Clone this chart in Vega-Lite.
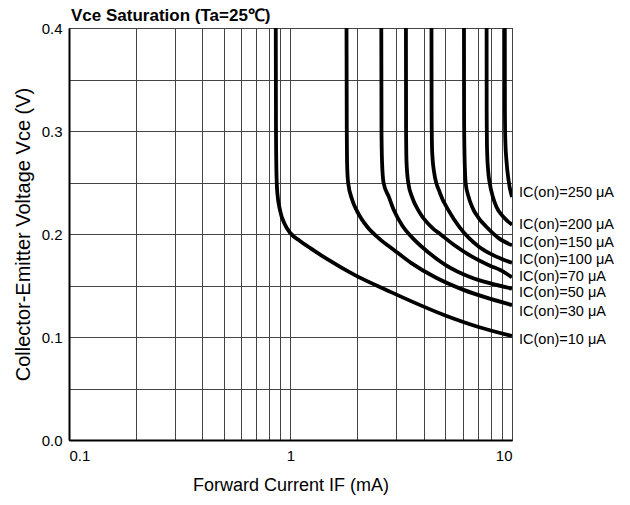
{
  "$schema": "https://vega.github.io/schema/vega-lite/v6.json",
  "width": 443,
  "height": 412,
  "autosize": "none",
  "padding": {"left": 69, "top": 28, "right": 118, "bottom": 65},
  "background": "white",
  "config": {
    "font": "Liberation Sans",
    "view": {"stroke": "#000", "strokeWidth": 1},
    "axis": {"labelFont": "Liberation Sans", "titleFont": "Liberation Sans", "labelColor": "#000", "titleColor": "#000", "titleFontWeight": "normal"}
  },
  "title": {
    "text": "Vce Saturation (Ta=25℃)",
    "anchor": "start",
    "frame": "group",
    "dx": 2,
    "offset": -4,
    "fontSize": 17,
    "fontWeight": "bold",
    "font": "Liberation Sans",
    "color": "#000"
  },
  "datasets": {
    "curves": [
      {"ic": "10", "fwd": 0.858, "vce": 0.40}, {"ic": "10", "fwd": 0.860, "vce": 0.30}, {"ic": "10", "fwd": 0.864, "vce": 0.26}, {"ic": "10", "fwd": 0.872, "vce": 0.24}, {"ic": "10", "fwd": 0.897, "vce": 0.223}, {"ic": "10", "fwd": 0.94, "vce": 0.210}, {"ic": "10", "fwd": 1.0, "vce": 0.2007}, {"ic": "10", "fwd": 1.1, "vce": 0.1935}, {"ic": "10", "fwd": 1.234, "vce": 0.186}, {"ic": "10", "fwd": 1.466, "vce": 0.1755}, {"ic": "10", "fwd": 1.935, "vce": 0.1605}, {"ic": "10", "fwd": 2.78, "vce": 0.1445}, {"ic": "10", "fwd": 4.93, "vce": 0.1214}, {"ic": "10", "fwd": 7.0, "vce": 0.110}, {"ic": "10", "fwd": 10, "vce": 0.101},
      {"ic": "30", "fwd": 1.79, "vce": 0.40}, {"ic": "30", "fwd": 1.795, "vce": 0.30}, {"ic": "30", "fwd": 1.80, "vce": 0.27}, {"ic": "30", "fwd": 1.82, "vce": 0.25}, {"ic": "30", "fwd": 1.90, "vce": 0.233}, {"ic": "30", "fwd": 2.0, "vce": 0.222}, {"ic": "30", "fwd": 2.22, "vce": 0.207}, {"ic": "30", "fwd": 2.5, "vce": 0.196}, {"ic": "30", "fwd": 2.93, "vce": 0.1845}, {"ic": "30", "fwd": 3.5, "vce": 0.172}, {"ic": "30", "fwd": 4.5, "vce": 0.158}, {"ic": "30", "fwd": 6.0, "vce": 0.146}, {"ic": "30", "fwd": 8.0, "vce": 0.137}, {"ic": "30", "fwd": 10, "vce": 0.131},
      {"ic": "50", "fwd": 2.57, "vce": 0.40}, {"ic": "50", "fwd": 2.575, "vce": 0.30}, {"ic": "50", "fwd": 2.59, "vce": 0.27}, {"ic": "50", "fwd": 2.63, "vce": 0.25}, {"ic": "50", "fwd": 2.78, "vce": 0.236}, {"ic": "50", "fwd": 2.93, "vce": 0.223}, {"ic": "50", "fwd": 3.2, "vce": 0.208}, {"ic": "50", "fwd": 3.6, "vce": 0.195}, {"ic": "50", "fwd": 4.2, "vce": 0.182}, {"ic": "50", "fwd": 5.0, "vce": 0.170}, {"ic": "50", "fwd": 6.5, "vce": 0.158}, {"ic": "50", "fwd": 8.0, "vce": 0.152}, {"ic": "50", "fwd": 10, "vce": 0.147},
      {"ic": "70", "fwd": 3.32, "vce": 0.40}, {"ic": "70", "fwd": 3.325, "vce": 0.30}, {"ic": "70", "fwd": 3.34, "vce": 0.27}, {"ic": "70", "fwd": 3.40, "vce": 0.25}, {"ic": "70", "fwd": 3.55, "vce": 0.235}, {"ic": "70", "fwd": 3.8, "vce": 0.222}, {"ic": "70", "fwd": 4.39, "vce": 0.2055}, {"ic": "70", "fwd": 4.735, "vce": 0.200}, {"ic": "70", "fwd": 5.5, "vce": 0.189}, {"ic": "70", "fwd": 6.6, "vce": 0.178}, {"ic": "70", "fwd": 8.0, "vce": 0.169}, {"ic": "70", "fwd": 8.85, "vce": 0.165}, {"ic": "70", "fwd": 10, "vce": 0.158},
      {"ic": "100", "fwd": 4.33, "vce": 0.40}, {"ic": "100", "fwd": 4.335, "vce": 0.32}, {"ic": "100", "fwd": 4.36, "vce": 0.28}, {"ic": "100", "fwd": 4.45, "vce": 0.26}, {"ic": "100", "fwd": 4.735, "vce": 0.2395}, {"ic": "100", "fwd": 5.2, "vce": 0.222}, {"ic": "100", "fwd": 5.78, "vce": 0.207}, {"ic": "100", "fwd": 6.4, "vce": 0.196}, {"ic": "100", "fwd": 7.09, "vce": 0.1877}, {"ic": "100", "fwd": 8.5, "vce": 0.178}, {"ic": "100", "fwd": 10, "vce": 0.172},
      {"ic": "150", "fwd": 6.07, "vce": 0.40}, {"ic": "150", "fwd": 6.075, "vce": 0.32}, {"ic": "150", "fwd": 6.1, "vce": 0.28}, {"ic": "150", "fwd": 6.18, "vce": 0.249}, {"ic": "150", "fwd": 6.35, "vce": 0.237}, {"ic": "150", "fwd": 6.6, "vce": 0.2265}, {"ic": "150", "fwd": 7.1, "vce": 0.215}, {"ic": "150", "fwd": 7.66, "vce": 0.207}, {"ic": "150", "fwd": 8.7, "vce": 0.196}, {"ic": "150", "fwd": 10, "vce": 0.189},
      {"ic": "200", "fwd": 7.68, "vce": 0.40}, {"ic": "200", "fwd": 7.685, "vce": 0.32}, {"ic": "200", "fwd": 7.72, "vce": 0.28}, {"ic": "200", "fwd": 7.80, "vce": 0.262}, {"ic": "200", "fwd": 7.94, "vce": 0.249}, {"ic": "200", "fwd": 8.2, "vce": 0.236}, {"ic": "200", "fwd": 8.5, "vce": 0.2265}, {"ic": "200", "fwd": 9.2, "vce": 0.216}, {"ic": "200", "fwd": 10, "vce": 0.209},
      {"ic": "250", "fwd": 9.28, "vce": 0.40}, {"ic": "250", "fwd": 9.29, "vce": 0.32}, {"ic": "250", "fwd": 9.33, "vce": 0.29}, {"ic": "250", "fwd": 9.45, "vce": 0.27}, {"ic": "250", "fwd": 9.65, "vce": 0.252}, {"ic": "250", "fwd": 10, "vce": 0.236}
    ],
    "labels": [
      {"label": "IC(on)=250 μA", "fwd": 10, "vce": 0.2395},
      {"label": "IC(on)=200 μA", "fwd": 10, "vce": 0.2087},
      {"label": "IC(on)=150 μA", "fwd": 10, "vce": 0.1916},
      {"label": "IC(on)=100 μA", "fwd": 10, "vce": 0.1748},
      {"label": "IC(on)=70 μA", "fwd": 10, "vce": 0.1586},
      {"label": "IC(on)=50 μA", "fwd": 10, "vce": 0.143},
      {"label": "IC(on)=30 μA", "fwd": 10, "vce": 0.1246},
      {"label": "IC(on)=10 μA", "fwd": 10, "vce": 0.097}
    ]
  },
  "layer": [
    {
      "data": {"name": "curves"},
      "mark": {"type": "line", "color": "#000", "strokeWidth": 3.8, "interpolate": "monotone", "clip": true},
      "encoding": {
        "x": {
          "field": "fwd", "type": "quantitative",
          "scale": {"type": "log", "domain": [0.1, 10], "nice": false},
          "axis": {
            "title": "Forward Current IF (mA)",
            "titleFontSize": 18,
            "titlePadding": 13,
            "values": [0.1, 0.2, 0.3, 0.4, 0.5, 0.6, 0.7, 0.8, 0.9, 1, 2, 3, 4, 5, 6, 7, 8, 9, 10],
            "labelExpr": "datum.value == 0.1 ? '0.1' : datum.value == 1 ? '1' : datum.value == 10 ? '10' : ''",
            "labelOverlap": false,
            "labelFontSize": 15,
            "labelPadding": 8,
            "ticks": false,
            "grid": true,
            "gridColor": "#444",
            "gridWidth": 1,
            "gridOpacity": 1,
            "domainColor": "#000",
            "domainWidth": 2
          }
        },
        "y": {
          "field": "vce", "type": "quantitative",
          "scale": {"domain": [0, 0.4], "nice": false},
          "axis": {
            "title": "Collector-Emitter Voltage Vce (V)",
            "titleFontSize": 20,
            "titlePadding": 8,
            "values": [0, 0.05, 0.1, 0.15, 0.2, 0.25, 0.3, 0.35, 0.4],
            "labelExpr": "round(datum.value * 100) % 10 == 0 ? format(datum.value, '.1f') : ''",
            "labelOverlap": false,
            "labelFontSize": 15,
            "labelPadding": 7,
            "ticks": false,
            "grid": true,
            "gridColor": "#444",
            "gridWidth": 1,
            "gridOpacity": 1,
            "domainColor": "#000",
            "domainWidth": 2
          }
        },
        "detail": {"field": "ic", "type": "nominal"}
      }
    },
    {
      "data": {"name": "labels"},
      "mark": {"type": "text", "align": "left", "baseline": "middle", "dx": 7, "fontSize": 14.5, "font": "Liberation Sans", "color": "#000", "clip": false},
      "encoding": {
        "x": {"field": "fwd", "type": "quantitative"},
        "y": {"field": "vce", "type": "quantitative"},
        "text": {"field": "label"}
      }
    }
  ]
}
